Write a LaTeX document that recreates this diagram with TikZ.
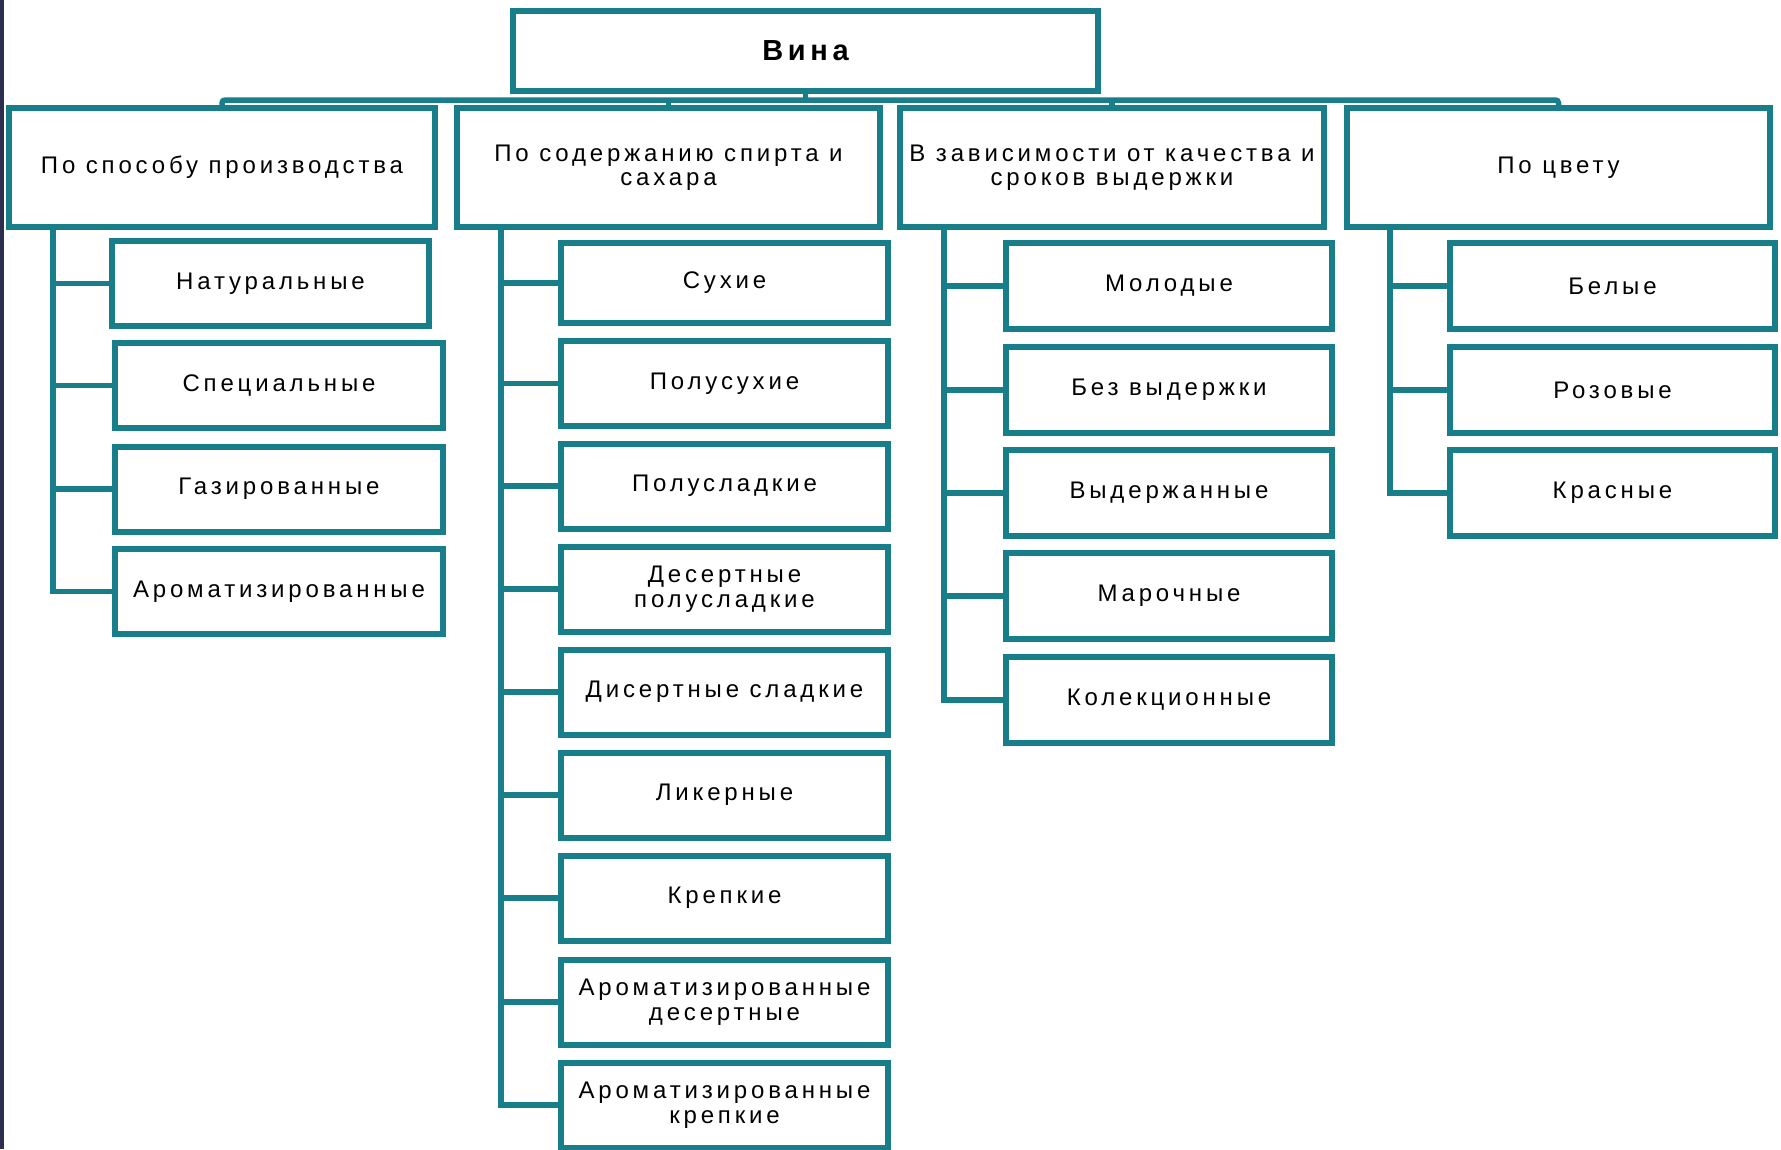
\documentclass[tikz,border=0pt]{standalone}
\usepackage{fontspec}
\setmainfont[LetterSpace=16]{Liberation Sans}
\definecolor{tealc}{RGB}{24,126,137}
\definecolor{navyc}{RGB}{46,46,78}
\begin{document}
\begin{tikzpicture}[x=1pt,y=-1pt,
  box/.style={draw=tealc, line width=6pt, fill=white, align=center, inner sep=0pt,
    text=black, font=\fontsize{24}{24.5}\selectfont},
  conn/.style={draw=tealc, line width=5.5pt, line cap=butt, line join=miter},
  catbox/.style={box, minimum height=119pt},
]
\useasboundingbox (0,0) rectangle (1781,1149);
\fill[white] (0,0) rectangle (1781,1149);
\fill[navyc] (0,0) rectangle (4,1149);

% root
\node[box, minimum width=585pt, minimum height=80pt, font=\bfseries\fontsize{29}{30}\selectfont] (vina) at (805.5,51) {Вина};

% categories
\node[catbox, minimum width=426pt] (c1) at (222,167.5) {По способу производства};
\node[catbox, minimum width=423pt] (c2) at (668.5,167.5) {По содержанию спирта и\\сахара};
\node[catbox, minimum width=424pt] (c3) at (1112,167.5) {В зависимости от качества и\\сроков выдержки};
\node[catbox, minimum width=423pt] (c4) at (1558.5,167.5) {По цвету};

% bus
\coordinate (bus) at (805.5,100);
\draw[conn, rounded corners=3pt] (c1.north) -- (c1.north |- bus) -- (c4.north |- bus) -- (c4.north);
\draw[conn] (vina.south) -- (vina.south |- bus);
\draw[conn] (c2.north |- bus) -- (c2.north);
\draw[conn] (c3.north |- bus) -- (c3.north);

% column 1
\coordinate (v1) at (53,0);
\node[box, minimum width=317pt, minimum height=85pt] (n11) at (270.5,283.5) {Натуральные};
\node[box, minimum width=328pt, minimum height=85pt] (n12) at (279,385.5) {Специальные};
\node[box, minimum width=328pt, minimum height=85pt] (n13) at (279,489) {Газированные};
\node[box, minimum width=328pt, minimum height=85pt] (n14) at (279,591.5) {Ароматизированные};

% column 2
\coordinate (v2) at (501,0);
\node[box, minimum width=327pt, minimum height=80pt] (n21) at (724.5,283) {Сухие};
\node[box, minimum width=327pt, minimum height=85pt] (n22) at (724.5,383.5) {Полусухие};
\node[box, minimum width=327pt, minimum height=85pt] (n23) at (724.5,486) {Полусладкие};
\node[box, minimum width=327pt, minimum height=85pt] (n24) at (724.5,589) {Десертные\\полусладкие};
\node[box, minimum width=327pt, minimum height=85pt] (n25) at (724.5,692) {Дисертные сладкие};
\node[box, minimum width=327pt, minimum height=85pt] (n26) at (724.5,795) {Ликерные};
\node[box, minimum width=327pt, minimum height=85pt] (n27) at (724.5,898) {Крепкие};
\node[box, minimum width=327pt, minimum height=85pt] (n28) at (724.5,1002) {Ароматизированные\\десертные};
\node[box, minimum width=327pt, minimum height=85pt] (n29) at (724.5,1105) {Ароматизированные\\крепкие};

% column 3
\coordinate (v3) at (944,0);
\node[box, minimum width=326pt, minimum height=86pt] (n31) at (1169,286) {Молодые};
\node[box, minimum width=326pt, minimum height=86pt] (n32) at (1169,390) {Без выдержки};
\node[box, minimum width=326pt, minimum height=86pt] (n33) at (1169,493) {Выдержанные};
\node[box, minimum width=326pt, minimum height=86pt] (n34) at (1169,596) {Марочные};
\node[box, minimum width=326pt, minimum height=86pt] (n35) at (1169,700) {Колекционные};

% column 4
\coordinate (v4) at (1390,0);
\node[box, minimum width=325pt, minimum height=86pt] (n41) at (1612.5,286) {Белые};
\node[box, minimum width=325pt, minimum height=86pt] (n42) at (1612.5,390) {Розовые};
\node[box, minimum width=325pt, minimum height=86pt] (n43) at (1612.5,493) {Красные};

% connectors
\foreach \n in {n11,n12,n13,n14} \draw[conn] (v1 |- c1.south) |- (\n.west);
\foreach \n in {n21,n22,n23,n24,n25,n26,n27,n28,n29} \draw[conn] (v2 |- c2.south) |- (\n.west);
\foreach \n in {n31,n32,n33,n34,n35} \draw[conn] (v3 |- c3.south) |- (\n.west);
\foreach \n in {n41,n42,n43} \draw[conn] (v4 |- c4.south) |- (\n.west);
\end{tikzpicture}
\end{document}
